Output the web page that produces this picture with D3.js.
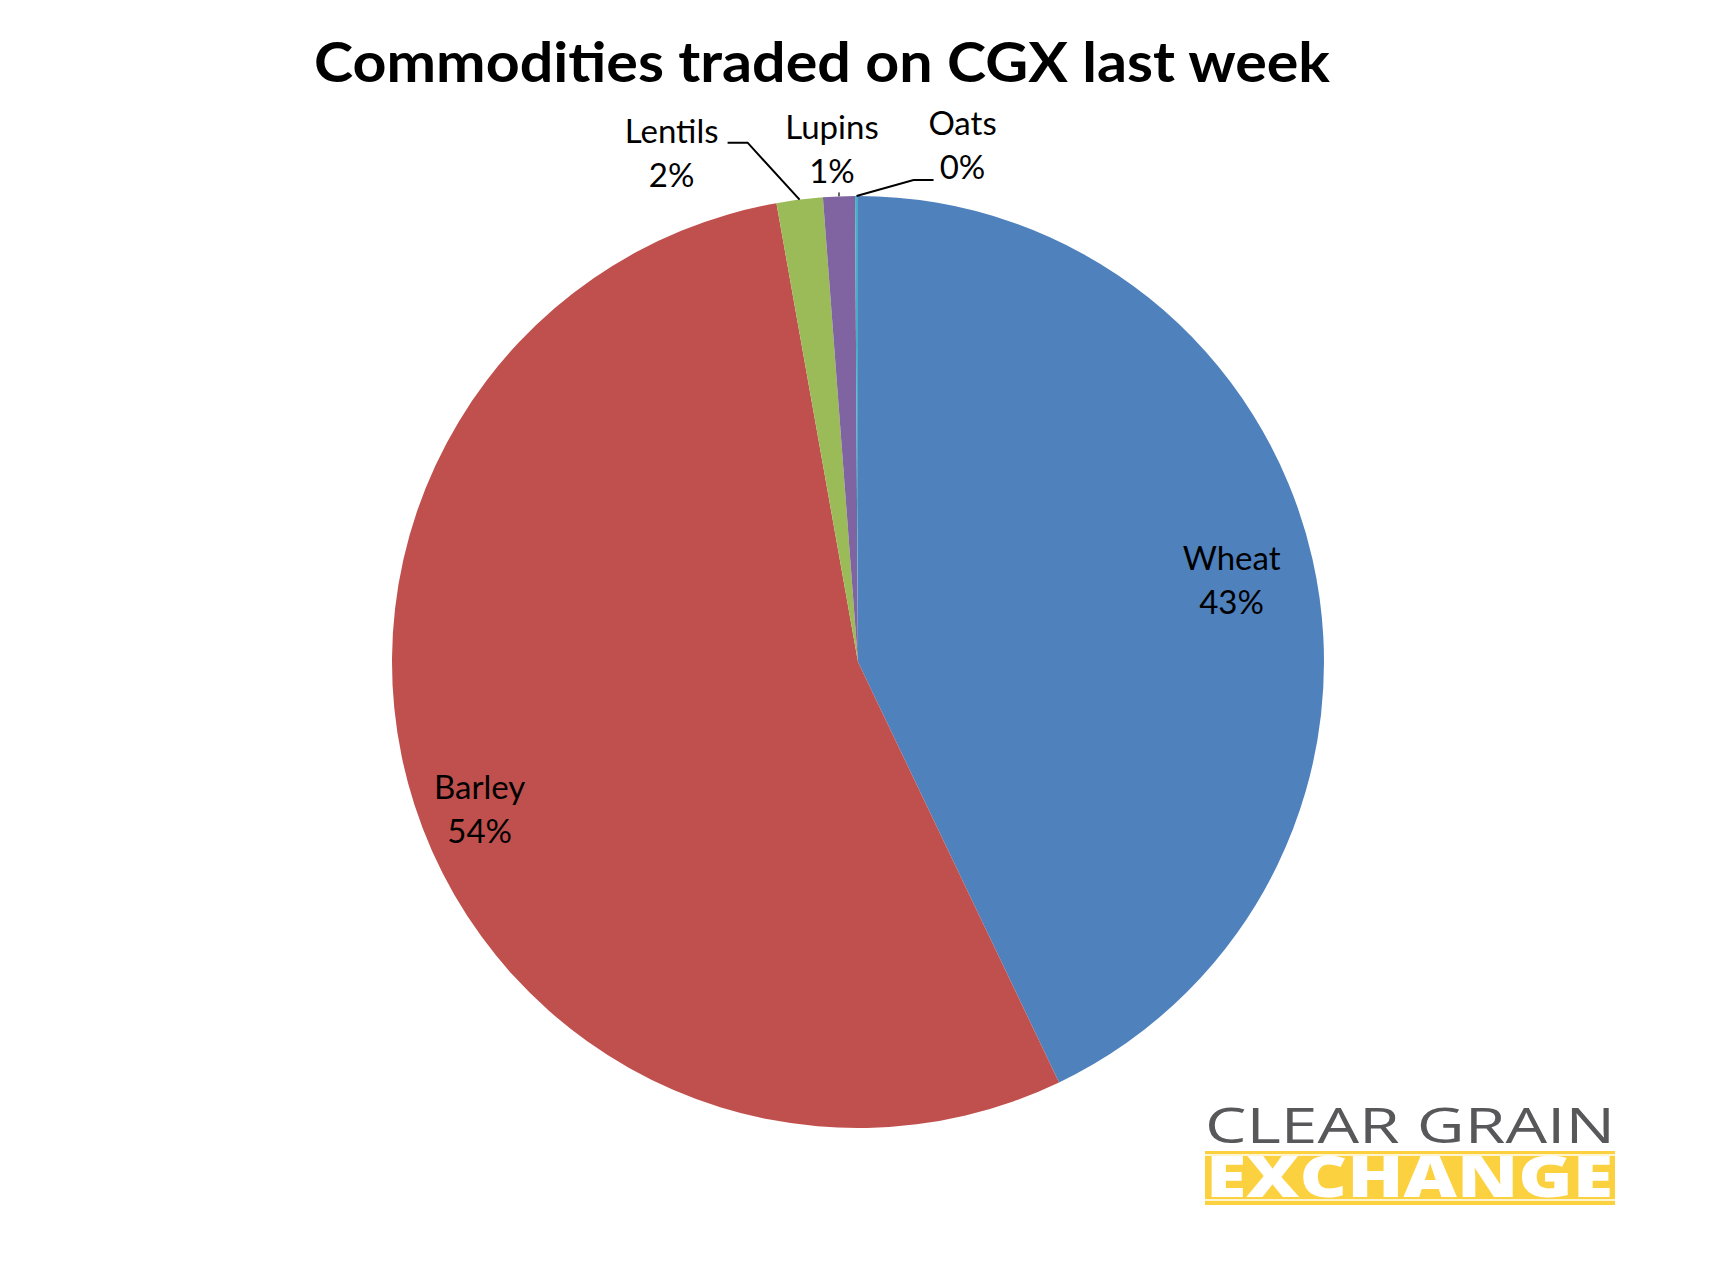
<!DOCTYPE html>
<html>
<head>
<meta charset="utf-8">
<script src="https://cdn.jsdelivr.net/npm/d3@7/dist/d3.min.js"></script>
<style>
  html, body { margin: 0; padding: 0; background: #fff; }
  svg { display: block; }
</style>
</head>
<body>
<svg id="chart" width="1716" height="1288"></svg>
<script>
// ---- data ----
const categories = ["Wheat", "Barley", "Lentils", "Lupins", "Oats"];
const values = [42.9, 54.3, 1.6, 1.1, 0.1];
const colors = ["#4F81BD", "#C0504D", "#9BBB59", "#8064A2", "#4BACC6"];
const title = "Commodities traded on CGX last week";

// ---- layout ----
const W = 1716, H = 1288;
const cx = 858, cy = 662, R = 466;
const svg = d3.select("#chart");
svg.append("rect").attr("width", W).attr("height", H).attr("fill", "#fff");

svg.append("text")
  .attr("x", 822).attr("y", 82)
  .attr("text-anchor", "middle")
  .attr("font-family", "Lato, 'Noto Sans', sans-serif")
  .attr("font-weight", 700)
  .attr("font-size", 56)
  .attr("textLength", 1016)
  .attr("lengthAdjust", "spacingAndGlyphs")
  .attr("fill", "#000")
  .text(title);

const data = categories.map((c, i) => ({ name: c, value: values[i], color: colors[i] }));
const total = d3.sum(values);
const pie = d3.pie().sort(null).value(d => d.value);
const arcs = pie(data);
const arc = d3.arc().innerRadius(0).outerRadius(R);
const g = svg.append("g").attr("transform", `translate(${cx},${cy})`);

g.selectAll("path.slice").data(arcs).enter().append("path")
  .attr("class", "slice")
  .attr("d", arc)
  .attr("fill", d => d.data.color);

const pct = d => Math.round(d.data.value / total * 100) + "%";
const font = "Lato, 'Noto Sans', sans-serif";
const fs = 33;
const lh = 44;

// inside labels: centroid of a label arc plus a small nudge
const inside = { Wheat: { r: 380, dx: 3, dy: -8 }, Barley: { r: 410, dx: 12, dy: 12 } };
// outside labels: label centre relative to the slice edge point, plus leader elbow
const outside = {
  Lentils: { lx: -128, ly: -35, ex: -52, ey: -57, hx: -72 },
  Lupins:  { lx: -7,   ly: -35, ex: 0,   ey: -4,  hx: 0 },
  Oats:    { lx: 106,  ly: -39, ex: 57,  ey: -16, hx: 77 }
};

arcs.forEach(d => {
  const name = d.data.name;
  const mid = (d.startAngle + d.endAngle) / 2;
  if (inside[name]) {
    const o = inside[name];
    const la = d3.arc().innerRadius(o.r).outerRadius(o.r);
    const [x, y] = la.centroid(d);
    const t = g.append("text")
      .attr("text-anchor", "middle")
      .attr("font-family", font).attr("font-size", fs).attr("fill", "#000");
    t.append("tspan").attr("x", x + o.dx).attr("y", y + o.dy).text(name);
    t.append("tspan").attr("x", x + o.dx).attr("y", y + o.dy + lh).text(pct(d));
  } else {
    const o = outside[name];
    const px = Math.sin(mid) * R, py = -Math.cos(mid) * R;
    const pts = [[px, py], [px + o.ex, py + o.ey], [px + o.hx, py + o.ey]];
    g.append("path")
      .attr("d", d3.line()(pts))
      .attr("fill", "none").attr("stroke", name === "Lupins" ? "#666" : "#000")
      .attr("stroke-width", 2);
    const t = g.append("text")
      .attr("text-anchor", "middle")
      .attr("font-family", font).attr("font-size", fs).attr("fill", "#000");
    t.append("tspan").attr("x", px + o.lx).attr("y", py + o.ly - lh / 2).text(name);
    t.append("tspan").attr("x", px + o.lx).attr("y", py + o.ly + lh / 2).text(pct(d));
  }
});

// ---- logo ----
const logo = svg.append("g");
logo.append("text")
  .attr("x", 1205).attr("y", 1143)
  .attr("font-family", "'Open Sans', Lato, sans-serif")
  .attr("font-weight", 500)
  .attr("font-size", 50)
  .attr("textLength", 410)
  .attr("lengthAdjust", "spacingAndGlyphs")
  .attr("fill", "#58585A")
  .text("CLEAR GRAIN");
logo.append("rect")
  .attr("x", 1205).attr("y", 1151).attr("width", 410).attr("height", 54)
  .attr("fill", "#FCD140");
logo.append("text")
  .attr("x", 1206).attr("y", 1197)
  .attr("font-family", "'Open Sans', Lato, sans-serif")
  .attr("font-weight", 800)
  .attr("font-size", 56)
  .attr("textLength", 407)
  .attr("lengthAdjust", "spacingAndGlyphs")
  .attr("fill", "#fff")
  .text("EXCHANGE");
logo.append("line").attr("x1", 1205).attr("x2", 1615).attr("y1", 1155).attr("y2", 1155)
  .attr("stroke", "#fff").attr("stroke-width", 1.5);
logo.append("line").attr("x1", 1205).attr("x2", 1615).attr("y1", 1200).attr("y2", 1200)
  .attr("stroke", "#fff").attr("stroke-width", 1.5);
</script>
</body>
</html>
